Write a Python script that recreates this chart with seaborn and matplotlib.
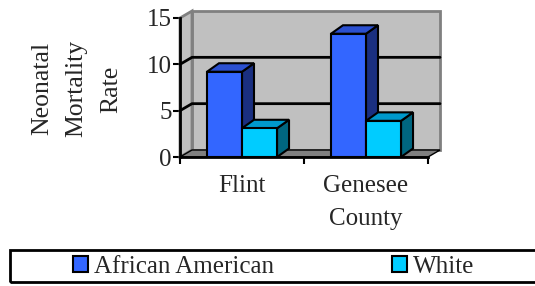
import seaborn as sns
import matplotlib.pyplot as plt
import pandas as pd
import numpy as np
from matplotlib.patches import Polygon, Rectangle

regions = ['Flint', 'Genesee\nCounty']
african_american = [9.2, 13.3]
white = [3.1, 3.9]
groups = ['African American', 'White']

front = {'African American': '#3366FF', 'White': '#00CCFF'}
top = {'African American': '#2B50D0', 'White': '#0099CC'}
side = {'African American': '#1A2F80', 'White': '#006680'}

df = pd.DataFrame({'region': regions * 2,
                   'group': [groups[0]] * 2 + [groups[1]] * 2,
                   'rate': african_american + white})

sns.set_theme(style='white')
plt.rcParams['font.family'] = ['Liberation Serif', 'DejaVu Serif']

fig = plt.figure(figsize=(5.35, 2.86), dpi=100)
ax = fig.add_axes([180 / 535, 1 - 157 / 286, 248 / 535, 139 / 286])
ax.set_facecolor('none')

sns.barplot(data=df, x='region', y='rate', hue='group', hue_order=groups,
            palette=front, width=0.565, edgecolor='black', linewidth=1.5,
            saturation=1, ax=ax, zorder=3)
ax.set_xlim(-0.5, 1.5)
ax.set_ylim(0, 15)

# pixel depth -> data units
inv = ax.transData.inverted()
p0 = ax.transData.transform((0, 0))
wdx, wdy = inv.transform(p0 + np.array([12, 7]))
bdx, bdy = inv.transform(p0 + np.array([12, 8.5]))
x0, x1 = ax.get_xlim()
ymax = 15

# walls and floor
ax.add_patch(Rectangle((x0 + wdx, wdy), x1 - x0, ymax, facecolor='#C0C0C0',
                       edgecolor='#808080', lw=2, clip_on=False, zorder=0.5))
ax.add_patch(Polygon([(x0, 0), (x0 + wdx, wdy), (x0 + wdx, ymax + wdy), (x0, ymax)],
                     facecolor='#C0C0C0', edgecolor='#808080', lw=2,
                     clip_on=False, zorder=0.6))
ax.add_patch(Polygon([(x0, 0), (x1, 0), (x1 + wdx, wdy), (x0 + wdx, wdy)],
                     facecolor='#808080', edgecolor='black', lw=1,
                     clip_on=False, zorder=0.7))
for gy in [5, 10]:
    ax.plot([x0, x0 + wdx, x1 + wdx], [gy, gy + wdy, gy + wdy], color='black',
            lw=2, clip_on=False, zorder=0.8)

# 3d faces for each bar
bars = sorted([p for p in ax.patches if isinstance(p, Rectangle) and p.get_height() > 0
               and p.get_zorder() == 3], key=lambda p: p.get_x())
for i, p in enumerate(bars):
    x, w, h = p.get_x(), p.get_width(), p.get_height()
    grp = groups[0] if np.allclose(p.get_facecolor()[:3], plt.matplotlib.colors.to_rgb(front[groups[0]])) else groups[1]
    z = 3 + i
    ax.add_patch(Polygon([(x + w, 0), (x + w + bdx, bdy), (x + w + bdx, h + bdy), (x + w, h)],
                         facecolor=side[grp], edgecolor='black', lw=1.5, clip_on=False, zorder=z))
    ax.add_patch(Polygon([(x, h), (x + w, h), (x + w + bdx, h + bdy), (x + bdx, h + bdy)],
                         facecolor=top[grp], edgecolor='black', lw=1.5, clip_on=False, zorder=z))
    p.set_zorder(z + 0.5)

for s in ['top', 'right']:
    ax.spines[s].set_visible(False)
for s in ['left', 'bottom']:
    ax.spines[s].set_linewidth(2)
    ax.spines[s].set_color('black')
    ax.spines[s].set_zorder(20)

ax.set_yticks([0, 5, 10, 15])
ax.tick_params(axis='y', direction='out', length=5, width=1.5, left=True,
               labelsize=18, pad=1, color='black')
ax.set_xticks([0, 1])
ax.set_xticks([-0.5, 0.5, 1.5], minor=True)
ax.tick_params(axis='x', which='major', length=0, labelsize=18, pad=13)
ax.tick_params(axis='x', which='minor', direction='out', length=5, width=1.5,
               bottom=True, color='black')
for t in ax.get_xticklabels():
    t.set_linespacing(1.65)
ax.set_xlabel('')
ax.set_ylabel('Neonatal\nMortality\nRate', fontsize=18.5, linespacing=1.75, va='center')
ax.yaxis.set_label_coords(-0.417, 0.49)

handles, labels = ax.get_legend_handles_labels()
ax.get_legend().remove()
fig.legend(handles, labels, loc='center', bbox_to_anchor=(0.512, 0.068), ncol=2,
           frameon=False, fontsize=18, handlelength=0.6, handleheight=0.6,
           handletextpad=0.25, columnspacing=4.7)
fig.add_artist(Rectangle((10 / 535, 4 / 286), 540 / 535, 32 / 286, transform=fig.transFigure,
                         fill=False, edgecolor='black', lw=2))

fig.savefig('out.png', dpi=100)
